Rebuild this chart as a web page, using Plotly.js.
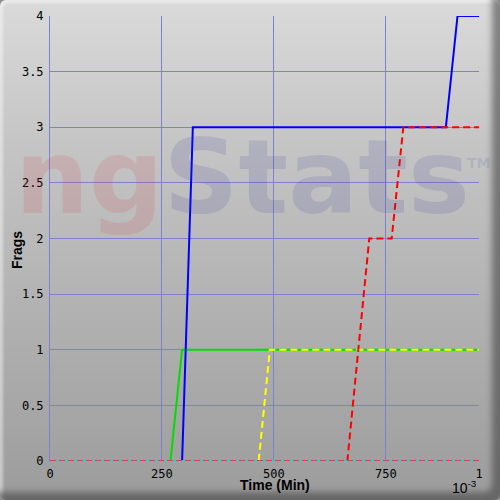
<!DOCTYPE html>
<html>
<head>
<meta charset="utf-8">
<script src="https://cdn.plot.ly/plotly-3.0.1.min.js"></script>
<style>
  body { margin: 0; background: #8c8c8c; }
  #graph {
    width: 500px; height: 500px;
    background: linear-gradient(#dadada, #c4c4c4 30%, #9c9c9c);
    box-shadow: inset -10px -10px 6px -2px rgba(60,60,60,0.55), inset 3px 3px 3px rgba(255,255,255,0.45);
    border-radius: 6px;
  }
</style>
</head>
<body>
<div id="graph"></div>
<script>
// time in 10^-3 min, frags per player
var timeBlue = [0, 295, 319, 884, 910, 958];
var fragsBlue = [0, 0, 3, 3, 4, 4];
var timeGreen = [0, 269, 295, 958];
var fragsGreen = [0, 0, 1, 1];
var timeYellow = [0, 466, 491, 958];
var fragsYellow = [0, 0, 1, 1];
var timeRed = [0, 664, 713, 763, 789, 958];
var fragsRed = [0, 0, 2, 2, 3, 3];
var timeZero = [0, 958];
var fragsZero = [0, 0];

var xTicks = [0, 250, 500, 750, 958];
var xTickText = ['0', '250', '500', '750', '1'];

var traces = [
    {x: timeGreen, y: fragsGreen, mode: 'lines', line: {color: '#00dd00', width: 2}},
    {x: timeBlue, y: fragsBlue, mode: 'lines', line: {color: '#0000ff', width: 2}},
    {x: timeYellow, y: fragsYellow, mode: 'lines', line: {color: '#ffff00', width: 2, dash: '7px,4px'}},
    {x: timeRed, y: fragsRed, mode: 'lines', line: {color: '#ff0000', width: 2, dash: '7px,4px'}},
    {x: timeZero, y: fragsZero, mode: 'lines', line: {color: '#20d0c8', width: 2}},
    {x: timeZero, y: fragsZero, mode: 'lines', line: {color: '#d04058', width: 2, dash: '6px,3px'}}
];

var tickFont = {family: 'DejaVu Sans Mono', size: 12, color: '#000'};
var titleFont = {family: 'Liberation Sans', size: 14, color: '#000'};
var gridColor = '#8080d0';

var layout = {
    width: 500, height: 500,
    margin: {l: 50, r: 21, t: 16, b: 39},
    paper_bgcolor: 'rgba(0,0,0,0)',
    plot_bgcolor: 'rgba(0,0,0,0)',
    showlegend: false,
    xaxis: {
        range: [0, 958], tickvals: xTicks, ticktext: xTickText,
        showgrid: true, gridcolor: gridColor, gridwidth: 1,
        zeroline: false, showline: false,
        ticks: 'outside', ticklen: 2, tickcolor: 'rgba(0,0,0,0)',
        tickfont: tickFont
    },
    yaxis: {
        range: [0, 4], dtick: 0.5, tick0: 0,
        showgrid: true, gridcolor: gridColor, gridwidth: 1,
        zeroline: false, showline: true, linecolor: gridColor, linewidth: 1,
        ticks: 'outside', ticklen: 3, tickcolor: 'rgba(0,0,0,0)',
        tickfont: tickFont
    },
    annotations: [
        {xref: 'paper', yref: 'paper', x: -0.086, y: 0.638, xanchor: 'left', yanchor: 'middle',
         showarrow: false,
         text: '<b><span style="color:rgba(215,60,70,0.15)">ng</span><span style="color:rgba(60,60,160,0.15)">Stats</span></b>',
         font: {family: 'DejaVu Sans', size: 104}},
        {xref: 'paper', yref: 'paper', x: 0.998, y: 0.67, xanchor: 'center', yanchor: 'middle',
         showarrow: false, text: '<b>TM</b>',
         font: {family: 'DejaVu Sans', size: 14, color: 'rgba(60,60,160,0.15)'}},
        {xref: 'paper', yref: 'paper', x: 0.525, y: -0.054, xanchor: 'center', yanchor: 'middle',
         showarrow: false, text: '<b>Time (Min)</b>', font: titleFont},
        {xref: 'paper', yref: 'paper', x: -0.077, y: 0.474, xanchor: 'center', yanchor: 'middle',
         showarrow: false, text: '<b>Frags</b>', textangle: -90, font: titleFont},
        {xref: 'paper', yref: 'paper', x: 1.0, y: -0.058, xanchor: 'right', yanchor: 'middle',
         showarrow: false, text: '10<sup>-3</sup>',
         font: {family: 'Liberation Sans', size: 14, color: '#000'}}
    ]
};

Plotly.newPlot('graph', traces, layout, {staticPlot: true});
</script>
</body>
</html>
